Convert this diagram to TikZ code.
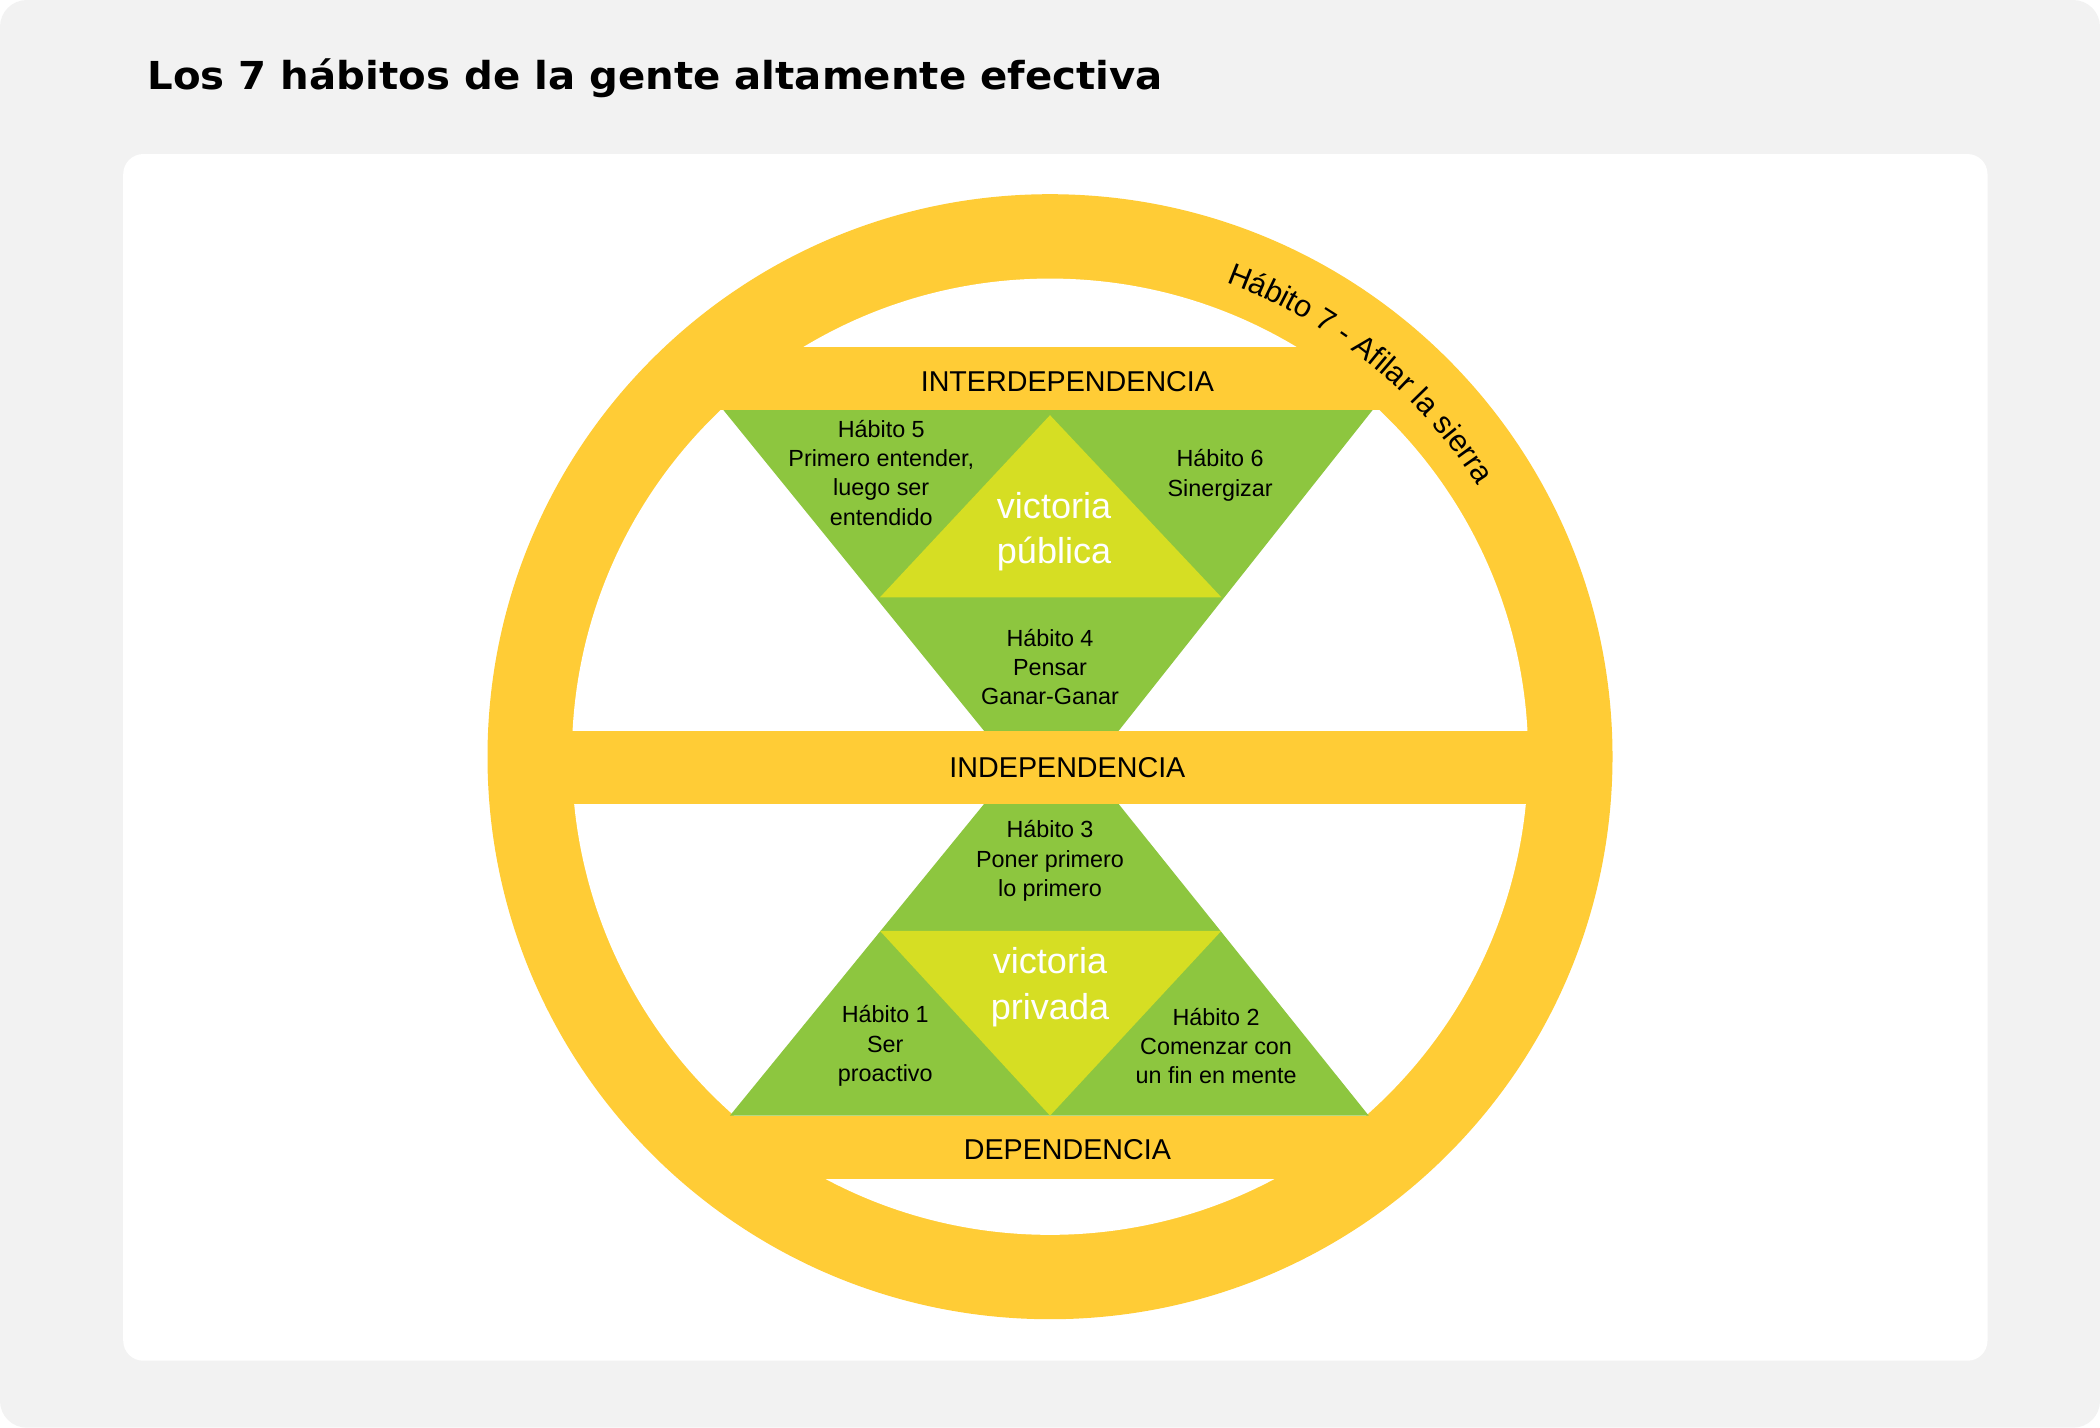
\documentclass[tikz,border=0pt]{standalone}
\usepackage{fontspec}
\usepackage{graphicx}
\setmainfont{Liberation Sans}
\newfontfamily\titlefont{DejaVu Sans}
\usetikzlibrary{decorations.text}
\definecolor{ring}{HTML}{FFCC36}
\definecolor{grn}{HTML}{8DC63F}
\definecolor{lgrn}{HTML}{D6DE23}
\definecolor{bg}{HTML}{F2F2F2}
\begin{document}
\begin{tikzpicture}[x=1bp,y=-1bp,
  hab/.style={align=center,font=\fontsize{17.5}{22}\selectfont,inner sep=0pt},
  lvl/.style={font=\fontsize{21.5}{24}\selectfont,inner sep=0pt},
  vic/.style={align=center,text=white,font=\fontsize{27}{34}\selectfont,inner sep=0pt}]
\useasboundingbox (0,0) rectangle (1568,1066);
\fill[bg,rounded corners=20bp] (0,0) rectangle (1568,1066);
\fill[white,rounded corners=15bp] (92,115) rectangle (1484,1016);
\node[anchor=base west,inner sep=0pt] (title) at (110,67) {\resizebox{758bp}{23bp}{\titlefont\bfseries Los 7 hábitos de la gente altamente efectiva}};
\coordinate (c) at (784,565);
\fill[ring] (c) circle[radius=420bp];
\fill[white] (c) circle[radius=357bp];
% triangles
\fill[grn] (540,306) -- (1025,306) -- (835,546) -- (735,546) -- cycle;
\fill[lgrn] (784,310) -- (912,446) -- (657,446) -- cycle;
\fill[grn] (545,833) -- (1022,833) -- (835,600) -- (735,600) -- cycle;
\fill[lgrn] (657,695) -- (912,695) -- (784,833) -- cycle;
% bars
\begin{scope}
\clip (c) circle[radius=358bp];
\fill[ring] (400,259) rectangle (1170,306);
\fill[ring] (400,546) rectangle (1170,600);
\fill[ring] (400,833) rectangle (1170,880);
\end{scope}
\node[lvl] (inter) at (797,285) {INTERDEPENDENCIA};
\node[lvl] (indep) at (797,573) {INDEPENDENCIA};
\node[lvl] (dep) at (797,858) {DEPENDENCIA};
\node[hab] (h5) at (658,353) {Hábito 5\\Primero entender,\\luego ser\\entendido};
\node[hab] (h6) at (911,355) {Hábito 6\\Sinergizar};
\node[hab] (h4) at (784,498) {Hábito 4\\Pensar\\Ganar-Ganar};
\node[hab] (h3) at (784,643) {Hábito 3\\Poner primero\\lo primero};
\node[hab] (h1) at (661,781) {Hábito 1\\Ser\\proactivo};
\node[hab] (h2) at (908,781) {Hábito 2\\Comenzar con\\un fin en mente};
\node[vic] (vpub) at (787,397) {victoria\\pública};
\node[vic] (vpriv) at (784,737) {victoria\\privada};
\path[decorate,decoration={text along path,text align=center,
  text={|\fontsize{23}{26}\selectfont|Hábito 7 - Afilar la sierra}}]
  (c) ++(74:378bp) arc[start angle=74,end angle=28,radius=378bp];
\end{tikzpicture}
\end{document}
